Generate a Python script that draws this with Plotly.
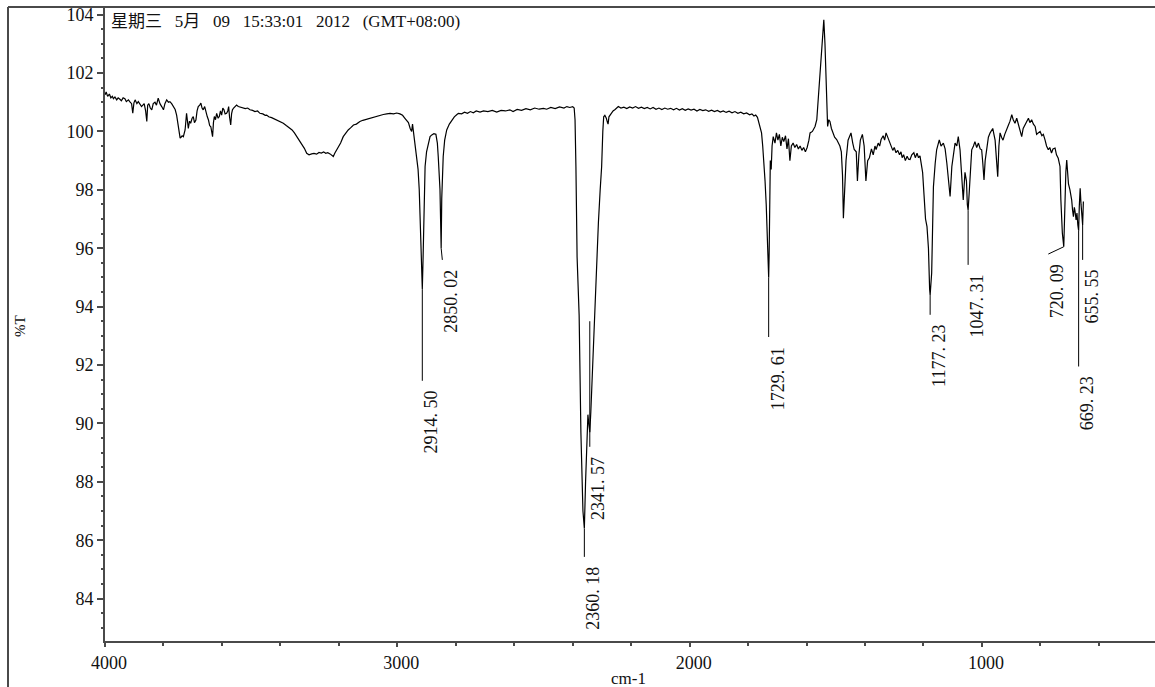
import plotly.graph_objects as go

# ---------------- data ----------------
wavenumber = [
    4000, 3996, 3991, 3985, 3980, 3975, 3971, 3966, 3960, 3955, 3949, 3944, 3938, 3932, 3927, 3920,
    3914, 3909, 3905, 3901, 3897, 3891, 3886, 3880, 3875, 3866, 3861, 3857, 3854, 3850, 3845, 3840,
    3835, 3829, 3824, 3818, 3812, 3806, 3800, 3795, 3789, 3783, 3778, 3772, 3766, 3760, 3755, 3751,
    3747, 3743, 3740, 3736, 3732, 3729, 3726, 3721, 3718, 3715, 3711, 3707, 3702, 3698, 3694, 3689,
    3685, 3681, 3676, 3672, 3668, 3664, 3659, 3654, 3650, 3646, 3642, 3638, 3635, 3632, 3629, 3626,
    3622, 3618, 3613, 3609, 3605, 3601, 3597, 3593, 3589, 3584, 3580, 3577, 3574, 3570, 3567, 3564,
    3560, 3555, 3550, 3544, 3536, 3527,
    3520, 3512, 3504, 3495, 3487, 3478, 3470, 3460, 3452, 3447, 3440, 3430, 3420, 3413, 3405, 3398,
    3390, 3380, 3372, 3367, 3360, 3352, 3344, 3336, 3327, 3318, 3310, 3302, 3293, 3285, 3276, 3268,
    3260, 3252, 3245, 3238, 3230, 3225, 3219, 3214, 3208, 3202, 3194, 3185, 3176, 3168, 3160, 3150,
    3140, 3128, 3118, 3105, 3093, 3080, 3070, 3059, 3048, 3036, 3025, 3013, 3002, 2991, 2982, 2974,
    2968, 2962, 2956, 2951, 2948, 2944, 2940, 2934, 2929, 2925, 2920, 2917, 2914.5, 2912, 2909, 2905,
    2900, 2894, 2888, 2882, 2875, 2868, 2863, 2860, 2856, 2854, 2852, 2850.02, 2848, 2846, 2843, 2838,
    2831, 2822, 2814, 2805, 2796, 2791, 2780, 2770, 2760, 2750, 2740, 2730, 2717, 2705, 2690, 2675,
    2660, 2645, 2630, 2615, 2604, 2590, 2575, 2560, 2545, 2530, 2515, 2500, 2489, 2475, 2460, 2445,
    2430, 2420, 2410, 2400, 2395, 2392, 2389, 2385, 2378, 2372, 2365, 2360.18, 2356, 2352, 2348, 2345,
    2341.57, 2338, 2335, 2329, 2324, 2318, 2312, 2306, 2301, 2297, 2294, 2290, 2285, 2281, 2279, 2276,
    2270, 2262, 2255, 2244, 2235, 2225,
    2215, 2205, 2195, 2185, 2175, 2165, 2155, 2145, 2135, 2125, 2115, 2105, 2095, 2085, 2075, 2065,
    2055, 2045, 2035, 2025, 2015, 2005, 1995, 1985, 1975, 1965, 1955, 1945, 1935, 1925, 1915, 1905,
    1895, 1885, 1875, 1865, 1855, 1845, 1835, 1825, 1815, 1805, 1795, 1787, 1780, 1774, 1768, 1763,
    1758, 1754, 1750, 1746, 1742, 1738, 1734, 1731, 1729.61, 1728, 1726, 1724, 1721, 1718, 1714, 1708,
    1703, 1698, 1693, 1688, 1683, 1678, 1672, 1667, 1662, 1657, 1652, 1646, 1640, 1634, 1628, 1622,
    1616, 1610, 1604, 1598, 1592, 1588, 1580, 1575, 1571, 1565, 1561, 1556, 1552, 1546, 1541, 1537,
    1533, 1528, 1524, 1520, 1515, 1510, 1504, 1497, 1492, 1486, 1481, 1477, 1474, 1470, 1465, 1458,
    1452, 1448, 1442, 1437, 1430, 1426, 1421, 1416, 1409, 1403, 1397, 1391, 1385, 1378, 1372, 1366,
    1362, 1355, 1350, 1345, 1338, 1333, 1328, 1322, 1316, 1311, 1305, 1300, 1294, 1288, 1282, 1277,
    1273, 1268, 1262, 1256, 1251, 1246, 1240, 1233, 1228, 1222, 1217, 1212, 1207, 1203, 1198, 1193,
    1188, 1183, 1179, 1177.23, 1172, 1166, 1160, 1155, 1146, 1140, 1132, 1126, 1120, 1114, 1109, 1103,
    1097, 1092, 1086, 1081, 1075, 1069, 1064, 1058, 1053, 1050, 1047.31, 1043, 1039, 1035, 1029, 1024,
    1018, 1012, 1006, 1001, 997, 993, 989, 984, 978, 972, 967, 963, 959, 955, 950, 946,
    942, 938, 933, 928, 922, 915, 910, 904, 898, 893, 887, 881, 875, 870, 864, 859,
    853, 847, 841, 836, 830, 824, 818, 813, 807, 801, 795, 790, 784, 779, 773, 768,
    762, 757, 750, 745, 739, 735, 733, 730, 725, 720.09, 716, 713, 710, 707, 704, 699,
    695, 693, 690, 687, 684, 682, 678, 675, 672, 669.23, 667, 664, 661, 658, 655.55, 653,
]

transmittance = [
    101.25, 101.35, 101.2, 101.28, 101.15, 101.2, 101.12, 101.18, 101.08, 101.15, 101.1, 101.05, 101.15, 101.12, 101.02, 101.08,
    101.0, 100.95, 100.62, 100.98, 101.08, 100.95, 101.02, 100.9, 100.85, 100.95, 100.7, 100.34, 100.9, 100.95, 100.8, 100.74,
    100.95, 101.0, 100.9, 101.14, 100.95, 100.85, 100.74, 100.95, 101.08, 101.0, 101.02, 100.95, 100.85, 100.75, 100.56, 100.3,
    99.94, 99.77, 99.8, 99.85, 99.82, 99.95, 100.05, 100.62, 100.3, 100.1, 100.35, 100.28, 100.45, 100.51, 100.3, 100.39,
    100.7, 100.85, 100.9, 100.97, 100.8, 100.74, 100.85, 100.62, 100.5, 100.39, 100.2, 100.16, 100.0, 99.82, 100.3, 100.51,
    100.4, 100.62, 100.45, 100.51, 100.7, 100.56, 100.8, 100.74, 100.6, 100.62, 100.7, 100.85, 100.5, 100.22, 100.6, 100.74,
    100.8, 100.85, 100.9, 100.85, 100.82, 100.8,
    100.78, 100.8, 100.74, 100.72, 100.68, 100.7, 100.62, 100.6, 100.55, 100.56, 100.5, 100.47, 100.42, 100.39, 100.35, 100.3,
    100.28, 100.2, 100.15, 100.11, 100.05, 99.95, 99.82, 99.72, 99.59, 99.42, 99.25, 99.2, 99.23, 99.25, 99.22, 99.28,
    99.26, 99.3, 99.25, 99.27, 99.23, 99.18, 99.14, 99.25, 99.35, 99.48, 99.6, 99.82, 99.95, 100.05, 100.12, 100.22,
    100.25, 100.34, 100.38, 100.42, 100.45, 100.5, 100.52, 100.55, 100.58, 100.6, 100.62, 100.6, 100.63, 100.6, 100.55, 100.45,
    100.38, 100.3, 100.1, 100.0, 100.25, 99.9, 99.6, 99.14, 98.7, 98.0, 96.2, 95.2, 94.6, 95.6, 97.0, 98.8,
    99.3, 99.6, 99.82, 99.88, 99.92, 99.9, 99.6, 99.14, 98.5, 98.0, 97.0, 96.0, 97.7, 98.5, 99.14, 99.7,
    100.05, 100.25, 100.39, 100.5, 100.58, 100.62, 100.6, 100.66, 100.62, 100.68, 100.64, 100.7, 100.66, 100.7, 100.68, 100.72,
    100.66, 100.72, 100.7, 100.74, 100.68, 100.75, 100.72, 100.78, 100.74, 100.8, 100.76, 100.79, 100.76, 100.82, 100.78, 100.84,
    100.8, 100.85, 100.82, 100.85, 100.8, 100.4, 98.8, 95.7, 93.7, 89.7, 87.0, 86.4, 88.0, 89.5, 90.3, 90.0,
    89.7, 90.4, 91.15, 93.1, 94.4, 95.7, 96.9, 98.0, 98.8, 100.0, 100.5, 100.55, 100.45, 100.3, 100.25, 100.5,
    100.6, 100.7, 100.75, 100.85, 100.8, 100.83,
    100.78, 100.84, 100.8, 100.85, 100.79, 100.83, 100.78, 100.82, 100.77, 100.82, 100.76, 100.8, 100.75, 100.8, 100.76, 100.79,
    100.74, 100.79, 100.73, 100.78, 100.72, 100.77, 100.73, 100.76, 100.7, 100.75, 100.71, 100.74, 100.69, 100.73, 100.68, 100.72,
    100.66, 100.7, 100.65, 100.69, 100.64, 100.68, 100.62, 100.66, 100.6, 100.63, 100.57, 100.6, 100.53, 100.56, 100.48, 100.3,
    100.1, 99.95, 99.5, 99.0, 98.3, 97.5, 96.5, 95.6, 95.0, 95.8, 97.5, 99.0, 98.7, 99.5, 99.82, 99.6,
    99.95, 99.7, 99.9, 99.5, 99.8, 99.65, 99.85, 99.4, 99.75, 99.0, 99.5, 99.6, 99.45, 99.55, 99.4, 99.5,
    99.35, 99.45, 99.3, 99.45, 99.7, 99.95, 100.0, 100.1, 100.17, 100.4, 100.96, 101.6, 102.22, 103.2, 103.82, 103.0,
    101.66, 100.17, 100.4, 100.34, 100.1, 99.95, 99.8, 99.72, 99.6, 99.5, 99.3, 98.5, 97.03, 98.0, 99.0, 99.7,
    99.9, 99.95, 99.6, 99.38, 99.3, 98.3, 99.2, 99.7, 99.9, 99.5, 98.3, 99.0, 99.1, 99.4, 99.2, 99.5,
    99.38, 99.6, 99.5, 99.72, 99.85, 99.7, 99.95, 99.8, 99.6, 99.5, 99.35, 99.45, 99.27, 99.35, 99.2, 99.3,
    99.1, 99.2, 99.0, 99.15, 99.05, 99.04, 99.2, 99.27, 99.1, 99.25, 99.1, 99.16, 98.9, 98.6, 97.8, 97.0,
    96.74, 96.0, 94.6, 94.4, 95.15, 98.1, 98.9, 99.37, 99.71, 99.5, 99.6, 99.4, 98.9, 98.3, 97.77, 98.8,
    99.2, 99.6, 99.5, 99.82, 99.37, 98.5, 97.65, 98.6, 98.3, 97.5, 97.3, 98.0, 98.9, 99.37, 99.5, 99.65,
    99.45, 99.6, 99.4, 99.37, 98.9, 98.34, 99.0, 99.37, 99.8, 99.95, 100.05, 100.1, 99.9, 99.7, 99.0, 98.45,
    99.5, 99.95, 99.8, 99.7, 99.9, 100.05, 100.2, 100.35, 100.57, 100.4, 100.28, 100.45, 100.2, 100.0, 99.82, 100.1,
    100.2, 100.35, 100.45, 100.3, 100.4, 100.25, 100.17, 99.9, 99.95, 100.0, 99.85, 99.9, 99.7, 99.5, 99.37, 99.45,
    99.26, 99.4, 99.43, 99.2, 99.08, 98.9, 98.8, 97.65, 96.52, 96.05, 98.23, 98.6, 99.02, 98.5, 98.2, 98.0,
    97.8, 97.65, 97.3, 97.08, 97.4, 97.3, 96.97, 97.2, 96.8, 96.6, 97.43, 98.05, 97.5, 96.9, 96.8, 97.6,
]

# peak markers: where the leader starts on the band, where it ends, and the label
peak_labels = ["2914.50", "2850.02", "2360.18", "2341.57", "1729.61",
               "1177.23", "1047.31", "720.09", "669.23", "655.55"]
peak_wn = [2914.50, 2850.02, 2360.18, 2341.57, 1729.61, 1177.23, 1047.31, 720.09, 669.23, 655.55]
peak_T = [94.6, 96.0, 86.4, 93.5, 95.0, 94.4, 97.3, 96.05, 96.6, 96.8]
label_wn = [2914.50, 2846.0, 2360.18, 2341.57, 1729.61, 1177.23, 1047.31, 773.0, 669.23, 655.55]
label_T = [91.46, 95.6, 85.43, 89.2, 92.96, 93.72, 95.43, 95.8, 91.95, 95.6]

x_range = [4000, 408]
y_range = [82.55, 104.26]
date_parts = ["星期三", "5月", "09", "15:33:01", "2012", "(GMT+08:00)"]
x_title = "cm-1"
y_title = "%T"

# ---------------- figure ----------------
SERIF = "Liberation Serif, Times New Roman, serif"
AXIS_COLOR = "#4a4a4a"
W, H = 1155, 687
ML, MR, MT, MB = 105, 0, 7, 46
PW, PH = W - ML - MR, H - MT - MB


def px_to_paper_x(px):
    return (px - ML) / PW


def px_to_paper_y(py):
    return (H - MB - py) / PH


fig = go.Figure()
fig.add_trace(go.Scatter(x=wavenumber, y=transmittance, mode="lines",
                         line=dict(color="black", width=1.2),
                         hoverinfo="skip", showlegend=False))

for wn0, t0, wn1, t1, lab in zip(peak_wn, peak_T, label_wn, label_T, peak_labels):
    fig.add_trace(go.Scatter(x=[wn0, wn1], y=[t0, t1], mode="lines",
                             line=dict(color="black", width=1),
                             hoverinfo="skip", showlegend=False))
    fig.add_annotation(x=wn1, y=t1, xref="x", yref="y", text=lab.replace(".", ". "),
                       textangle=-90, showarrow=False, xanchor="center", yanchor="top",
                       xshift=9, yshift=-8,
                       font=dict(family=SERIF, size=18, color="#111"))

gap = "\u00a0\u00a0\u00a0"
fig.add_annotation(x=px_to_paper_x(109), y=1, xref="paper", yref="paper",
                   text=gap.join(date_parts), showarrow=False, xanchor="left", yanchor="top",
                   yshift=-3,
                   font=dict(family="Liberation Serif, Noto Sans CJK SC", size=17, color="#111"))
fig.add_annotation(x=px_to_paper_x(20), y=px_to_paper_y(326), xref="paper", yref="paper",
                   text=y_title, showarrow=False, textangle=-90,
                   xanchor="center", yanchor="middle",
                   font=dict(family=SERIF, size=15, color="#111"))
fig.add_annotation(x=px_to_paper_x(628), y=px_to_paper_y(678), xref="paper", yref="paper",
                   text=x_title, showarrow=False, xanchor="center", yanchor="middle",
                   font=dict(family=SERIF, size=17, color="#111"))

# outer frame (left border and shared top border)
fig.add_shape(type="line", xref="paper", yref="paper",
              x0=px_to_paper_x(8), x1=px_to_paper_x(8), y0=px_to_paper_y(687), y1=1,
              line=dict(color=AXIS_COLOR, width=2))
fig.add_shape(type="line", xref="paper", yref="paper",
              x0=px_to_paper_x(8), x1=1, y0=1, y1=1,
              line=dict(color=AXIS_COLOR, width=2))

fig.update_layout(
    width=W, height=H,
    margin=dict(l=ML, r=MR, t=MT, b=MB, pad=0),
    paper_bgcolor="white", plot_bgcolor="white",
    showlegend=False,
    xaxis=dict(range=x_range, tickmode="linear", tick0=0, dtick=1000, automargin=False,
               ticks="outside", ticklen=4, tickwidth=1.5, tickcolor=AXIS_COLOR,
               showline=True, linecolor=AXIS_COLOR, linewidth=2,
               showgrid=False, zeroline=False, ticklabelshift=-4,
               tickfont=dict(family=SERIF, size=18, color="#111"),
               minor=dict(tickmode="linear", tick0=0, dtick=200, ticks="outside",
                          ticklen=3, tickcolor=AXIS_COLOR, showgrid=False)),
    yaxis=dict(range=y_range, tickmode="linear", tick0=0, dtick=2, automargin=False,
               ticks="outside", ticklen=6, tickwidth=1.5, tickcolor=AXIS_COLOR,
               showline=True, linecolor=AXIS_COLOR, linewidth=2,
               showgrid=False, zeroline=False,
               tickfont=dict(family=SERIF, size=18, color="#111"),
               minor=dict(tickmode="linear", tick0=0, dtick=0.5, ticks="outside",
                          ticklen=2, tickcolor=AXIS_COLOR, showgrid=False)),
)

fig.write_html("out.html",
               config={"displayModeBar": False},
               post_script="document.body.style.margin='0';document.body.style.overflow='hidden';")
